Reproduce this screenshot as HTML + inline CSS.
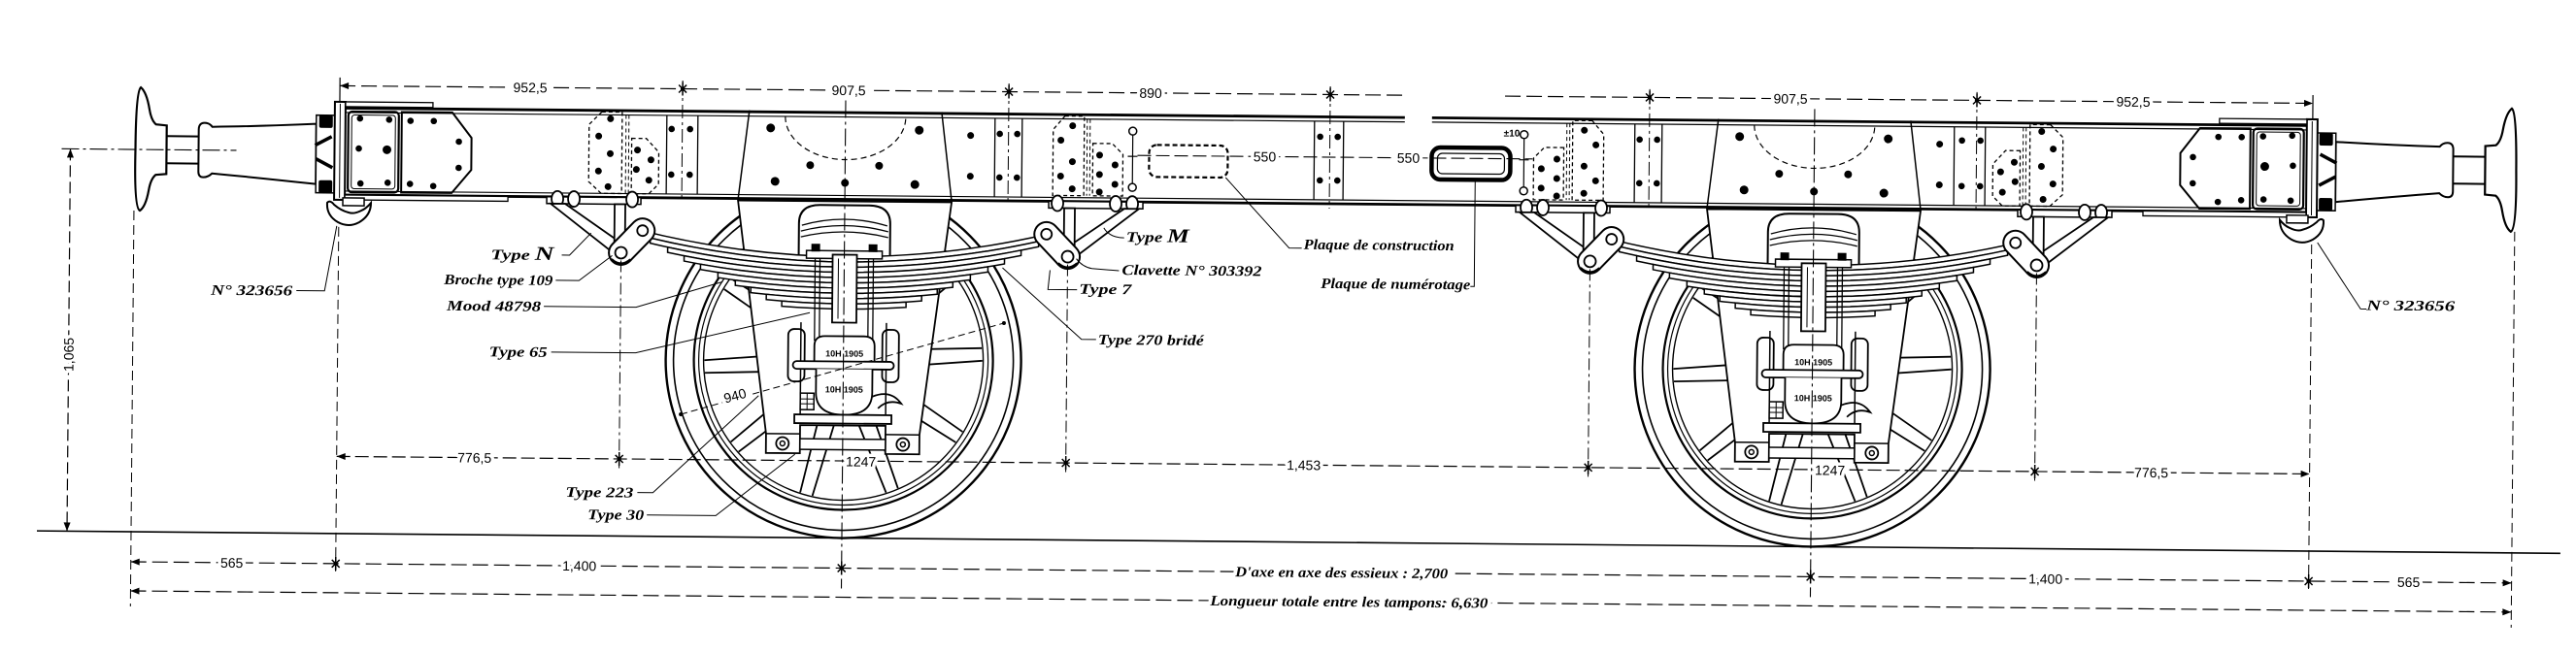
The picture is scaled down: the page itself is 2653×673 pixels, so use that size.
<!DOCTYPE html>
<html><head><meta charset="utf-8"><title>Châssis de wagon</title>
<style>
html,body{margin:0;padding:0;background:#fff;overflow:hidden}
svg{display:block}
.d{font-family:"Liberation Sans",sans-serif;font-size:14px;fill:#000;stroke:#fff;stroke-width:7px;paint-order:stroke;stroke-linejoin:round}
.l{font-family:"Liberation Serif",serif;font-style:italic;font-weight:bold;font-size:15px;fill:#000;stroke:none}
.lh{font-family:"Liberation Serif",serif;font-style:italic;font-weight:bold;font-size:15px;fill:#000;stroke:#fff;stroke-width:7px;paint-order:stroke;stroke-linejoin:round}
.s{font-family:"Liberation Sans",sans-serif;font-weight:bold;fill:#000;stroke:none}
</style></head><body>
<svg width="2653" height="673" viewBox="0 0 2653 673" xmlns="http://www.w3.org/2000/svg">
<rect width="2653" height="673" fill="#fff"/>
<defs>
<g id="sp"><path d="M44,-9 L143,-6.5 M44,9 L143,6.5"/></g>
<g id="tk"><path d="M0,-7 L0,7 M-4,-4 L4,4 M-4,4 L4,-4" stroke-width="1.5"/><circle r="2.2" fill="#000" stroke="none"/></g>
<path id="al" d="M0,0 L9,-3.5 L9,3.5 Z" fill="#000" stroke="none"/>

<g id="wl">
 <circle cx="867" cy="365" r="183" fill="#fff" stroke-width="2.4"/>
 <circle cx="867" cy="365" r="175" stroke-width="1.6"/>
 <circle cx="867" cy="365" r="154" stroke-width="2.2"/>
 <circle cx="867" cy="365" r="149" stroke-width="1.2"/>
 <circle cx="867" cy="365" r="144" stroke-width="1.4"/>
 <g transform="translate(867 365)" stroke-width="1.8">
  <use href="#sp" transform="rotate(177)"/>
  <use href="#sp" transform="rotate(213)"/>
  <use href="#sp" transform="rotate(249)"/>
  <use href="#sp" transform="rotate(285)"/>
  <use href="#sp" transform="rotate(321)"/>
  <use href="#sp" transform="rotate(357)"/>
  <use href="#sp" transform="rotate(33)"/>
  <use href="#sp" transform="rotate(69)"/>
  <use href="#sp" transform="rotate(105)"/>
  <use href="#sp" transform="rotate(141)"/>
 </g>
</g>

<g id="hg">
 <rect x="560" y="199" width="97" height="7" fill="#fff" stroke-width="1.5"/>
 <ellipse cx="571" cy="201" rx="6" ry="8" fill="#fff" stroke-width="1.8"/>
 <ellipse cx="588" cy="201" rx="6" ry="8" fill="#fff" stroke-width="1.8"/>
 <ellipse cx="648" cy="201" rx="6" ry="8" fill="#fff" stroke-width="1.8"/>
 <path d="M564,206 L579,206 L640,248 L630,257 Z" fill="#fff" stroke-width="1.8"/>
 <rect x="630" y="206" width="11" height="44" fill="#fff" stroke-width="1.8"/>
 <line x1="637" y1="256" x2="659" y2="233" stroke-width="27" stroke-linecap="round"/>
 <line x1="637" y1="256" x2="659" y2="233" stroke="#fff" stroke-width="23" stroke-linecap="round"/>
 <circle cx="637" cy="256" r="6" stroke-width="1.8"/>
 <circle cx="659" cy="233" r="5.5" stroke-width="1.8"/>
 <path d="M627,263 Q637,272 647,263" stroke-width="3"/>
</g>

<g id="wh">
 <path d="M768,108 L757,200 M966,108 L977,200" stroke-width="1.5"/>
 <path d="M805,114 A62,44 0 0 0 929,114" stroke-dasharray="6 4" stroke-width="1.2"/>
 <g fill="#000" stroke="none">
  <circle cx="790" cy="126" r="4.5"/><circle cx="943" cy="127" r="4.5"/>
  <circle cx="831" cy="164" r="4"/><circle cx="902" cy="164" r="4"/>
  <circle cx="795" cy="181" r="4.5"/><circle cx="867" cy="182" r="4"/><circle cx="939" cy="183" r="4.5"/>
  <circle cx="996" cy="132" r="3.5"/><circle cx="996" cy="174" r="3.5"/>
 </g>
 <path d="M757,201 L788,441 L788,461 L823,461 L823,432 L911,432 L911,461 L946,461 L946,441 L977,201 Z" fill="#fff" stroke-width="1.8"/>
 <path d="M788,441 L823,441 M911,441 L946,441" stroke-width="1.5"/>
 <rect x="823" y="446" width="88" height="11" fill="#fff" stroke-width="1.5"/>
 <circle cx="805" cy="451" r="6.5" stroke-width="1.8"/><circle cx="805" cy="451" r="2.5"/>
 <circle cx="929" cy="451" r="6.5" stroke-width="1.8"/><circle cx="929" cy="451" r="2.5"/>
 <path d="M820,262 L820,224 Q820,205 842,205 L892,205 Q914,205 914,224 L914,262 Z" fill="#fff" stroke-width="2"/>
 <path d="M823,226 Q867,213 911,226 M822,232 Q867,220 912,232 M822,238 Q867,227 912,238" stroke-width="1.3"/>
 <g fill="#fff" stroke-width="1.5">
  <path d="M658,233 Q867,283 1076,233 L1076,238.4 Q867,288.4 658,238.4 Z"/>
  <path d="M667,240.5 Q867,286.3 1067,240.5 L1067,245.9 Q867,291.7 667,245.9 Z"/>
  <path d="M685,249.8 Q867,287.8 1049,249.8 L1049,255.2 Q867,293.2 685,255.2 Z"/>
  <path d="M702,258.6 Q867,289.8 1032,258.6 L1032,264 Q867,295.2 702,264 Z"/>
  <path d="M719,267.1 Q867,292.1 1015,267.1 L1015,272.5 Q867,297.5 719,272.5 Z"/>
  <path d="M737,275.3 Q867,294.7 997,275.3 L997,280.7 Q867,300.1 737,280.7 Z"/>
  <path d="M755,283.2 Q867,297.6 979,283.2 L979,288.6 Q867,303 755,288.6 Z"/>
  <path d="M771,290.5 Q867,301.1 963,290.5 L963,295.9 Q867,306.5 771,295.9 Z"/>
  <path d="M787,297.5 Q867,304.9 947,297.5 L947,302.9 Q867,310.3 787,302.9 Z"/>
  <path d="M803,304.3 Q867,308.9 931,304.3 L931,309.7 Q867,314.3 803,309.7 Z"/>
 </g>
 <rect x="828" y="252" width="78" height="8" fill="#fff" stroke-width="1.5"/>
 <rect x="833" y="245" width="9" height="8" fill="#000" stroke="none"/>
 <rect x="892" y="245" width="9" height="8" fill="#000" stroke="none"/>
 <rect x="817" y="326" width="100" height="100" fill="#fff" stroke="none"/>
 <path d="M837,260 L837,345 M842,260 L842,345 M892,260 L892,345 M897,260 L897,345" stroke-width="1.3"/>
 <rect x="855" y="256" width="25" height="70" fill="#fff" stroke-width="1.8"/>
 <line x1="861" y1="260" x2="861" y2="322" stroke-width="1"/>
 <rect x="810" y="333" width="17" height="54" rx="6" fill="#fff" stroke-width="1.8"/>
 <rect x="907" y="333" width="17" height="54" rx="6" fill="#fff" stroke-width="1.8"/>
 <path d="M823,326 L823,421 M911,326 L911,421" stroke-width="1.5"/>
 <path d="M837,373 L837,350 Q837,340 848,340 L888,340 Q899,340 899,350 L899,373 Z" fill="#fff" stroke-width="1.8"/>
 <rect x="815" y="366" width="104" height="8" rx="4" fill="#fff" stroke-width="1.8"/>
 <path d="M839,374 L839,398 Q839,421 868,421 Q897,421 897,398 L897,374" fill="#fff" stroke-width="1.8"/>
 <rect x="817" y="421" width="100" height="9" fill="#fff" stroke-width="1.8"/>
 <rect x="823" y="399" width="14" height="17" fill="#fff" stroke-width="1.5"/>
 <path d="M823,405 L837,405 M823,410 L837,410 M830,399 L830,416" stroke-width="1"/>
 <path d="M897,402 Q916,394 927,409 Q913,404 903,414" stroke-width="1.8"/>
 <text class="s" x="868" y="361" font-size="9" text-anchor="middle">10H 1905</text>
 <text class="s" x="868" y="398" font-size="9" text-anchor="middle">10H 1905</text>
 <use href="#hg"/>
 <use href="#hg" transform="matrix(-1 0 0 1 1734 0)"/>
</g>

<g id="endL">
 <path d="M141,90 Q147,95 150,112 Q152,124 157,128 L168,129 L168,179 L157,180 Q152,184 150,196 Q147,213 141,217 Q135,214 136,154 Q136,94 141,90 Z" fill="#fff" stroke-width="2.2"/>
 <path d="M168,140 L201,140 M168,168 L201,168" stroke-width="2"/>
 <path d="M201,133 Q201,126 207,126 Q212,126 215,130 Q262,129 322,126 L322,188 Q262,182 215,178 Q211,182 206,182 Q201,182 201,176 Z" fill="#fff" stroke-width="2"/>
 <rect x="322" y="117" width="19" height="80" fill="#fff" stroke-width="1.5"/>
 <rect x="325" y="117" width="14" height="13" rx="2" fill="#000" stroke="none"/>
 <rect x="325" y="184" width="14" height="13" rx="2" fill="#000" stroke="none"/>
 <path d="M321,148 L338,139 M322,162 L339,171" stroke-width="3.5"/>
 <rect x="341" y="103" width="11" height="101" fill="#fff" stroke-width="2"/>
 <line x1="346.5" y1="105" x2="346.5" y2="202" stroke-width="1"/>
 <rect x="352" y="103" width="90" height="5" fill="#fff" stroke-width="1.3"/>
 <rect x="352" y="199" width="168" height="5" fill="#fff" stroke-width="1.3"/>
 <rect x="355" y="113" width="52" height="83" rx="4" stroke-width="2.2"/>
 <rect x="358.5" y="116.5" width="45" height="76" rx="3" stroke-width="1"/>
 <path d="M410,113 L462,113 L482,139 L482,172 L462,196 L410,196 Z" stroke-width="2"/>
 <rect x="350" y="202" width="22" height="8" fill="#fff" stroke-width="1.5"/>
 <path d="M334,207 Q333,220 345,227 Q356,233 367,227 Q379,220 379,207 Q374,213 369,215 Q361,219 356,217 Q348,215 341,209 Q337,204 334,207 Z" fill="#fff" stroke-width="2"/>
 <path d="M616,111 L637,111 L637,195 L616,195 L603,183 L603,124 Z" stroke-dasharray="4 3" stroke-width="1.3"/>
 <path d="M641,114 L641,195 M644,114 L644,195" stroke-dasharray="4 3" stroke-width="1"/>
 <path d="M647,138 L662,138 L675,152 L675,185 L665,195 L647,195 Z" stroke-dasharray="4 3" stroke-width="1.3"/>
 <path d="M683,114 L683,195 M715,114 L715,195" stroke-width="1.3"/>
 <g fill="#000" stroke="none">
  <circle cx="367" cy="120" r="3.3"/><circle cx="397" cy="121" r="3.3"/><circle cx="366" cy="151" r="3.3"/>
  <circle cx="395" cy="152" r="4.5"/><circle cx="368" cy="187" r="3.3"/><circle cx="396" cy="186" r="3.3"/>
  <circle cx="419" cy="122" r="3.3"/><circle cx="443" cy="122" r="3.3"/><circle cx="469" cy="143" r="3.3"/>
  <circle cx="469" cy="170" r="3.3"/><circle cx="419" cy="187" r="3.3"/><circle cx="443" cy="189" r="3.3"/>
  <circle cx="625" cy="118" r="3.5"/><circle cx="613" cy="136" r="3.5"/><circle cx="625" cy="154" r="3.5"/>
  <circle cx="613" cy="172" r="3.5"/><circle cx="623" cy="188" r="3.5"/>
  <circle cx="653" cy="150" r="3.5"/><circle cx="667" cy="160" r="3.5"/><circle cx="652" cy="170" r="3.5"/><circle cx="665" cy="181" r="3.5"/>
  <circle cx="688" cy="128" r="3.3"/><circle cx="707" cy="128" r="3.3"/><circle cx="688" cy="175" r="3.3"/><circle cx="707" cy="175" r="3.3"/>
 </g>
</g>

<g id="mid">
 <path d="M1021,114 L1021,195 M1049,114 L1049,195" stroke-width="1.3"/>
 <path d="M1093,111 L1113,111 L1113,193 L1081,193 L1081,125 Z" stroke-dasharray="4 3" stroke-width="1.3"/>
 <path d="M1116,114 L1116,193 M1119,114 L1119,193" stroke-dasharray="4 3" stroke-width="1"/>
 <path d="M1122,139 L1142,139 L1153,150 L1153,193 L1122,193 Z" stroke-dasharray="4 3" stroke-width="1.3"/>
 <path d="M1163,130 L1163,180 M1158,152 L1168,152" stroke-width="1.2"/>
 <circle cx="1163" cy="126" r="4" fill="#fff" stroke-width="1.5"/>
 <circle cx="1163" cy="184" r="4" fill="#fff" stroke-width="1.5"/>
 <g fill="#000" stroke="none">
  <circle cx="1026" cy="130" r="3.3"/><circle cx="1044" cy="130" r="3.3"/><circle cx="1026" cy="175" r="3.3"/><circle cx="1044" cy="175" r="3.3"/>
  <circle cx="1101" cy="121" r="3.5"/><circle cx="1089" cy="136" r="3.5"/><circle cx="1101" cy="158" r="3.5"/><circle cx="1089" cy="173" r="3.5"/><circle cx="1101" cy="186" r="3.5"/>
  <circle cx="1129" cy="151" r="3.5"/><circle cx="1145" cy="161" r="3.5"/><circle cx="1129" cy="171" r="3.5"/><circle cx="1145" cy="181" r="3.5"/><circle cx="1129" cy="189" r="3.5"/>
 </g>
</g>
</defs>

<g transform="rotate(0.51 135 548)" fill="none" stroke="#000" stroke-width="1.5">
 <use href="#wl"/>
 <use href="#wl" transform="translate(998 0)"/>

 <rect x="341" y="103" width="2042" height="97" fill="#fff" stroke="none"/>
 <path d="M341,109.5 L1443,109.5 M1471,109.5 L2383,109.5" stroke-width="2.8"/>
 <path d="M352,114 L1443,114 M1471,114 L2372,114" stroke-width="1.2"/>
 <path d="M352,195 L2372,195" stroke-width="1.2"/>
 <path d="M341,199 L2383,199" stroke-width="2.8"/>

 <use href="#endL"/>
 <use href="#endL" transform="matrix(-1 0 0 1 2724 0)"/>
 <use href="#mid"/>
 <use href="#mid" transform="matrix(-1 0 0 1 2729 0)"/>

 <path d="M1350,114 L1350,195 M1380,114 L1380,195" stroke-width="1.3"/>
 <g fill="#000" stroke="none">
  <circle cx="1356" cy="130" r="3.3"/><circle cx="1374" cy="130" r="3.3"/><circle cx="1356" cy="175" r="3.3"/><circle cx="1374" cy="175" r="3.3"/>
 </g>
 <rect x="1180" y="140" width="81" height="33" rx="8" stroke-dasharray="5 3" stroke-width="2.2"/>
 <rect x="1471" y="140" width="81" height="33" rx="9" stroke-width="4.5"/>
 <rect x="1477" y="146" width="69" height="21" rx="5" stroke-width="1.2"/>
 <path d="M1168,151 L1575,151" stroke-dasharray="14 5" stroke-width="1.1"/>
 <text class="d" x="1299" y="156" text-anchor="middle">550</text>
 <text class="d" x="1447" y="156" text-anchor="middle">550</text>
 <text class="s" x="1545" y="128" font-size="10">±10</text>

 <use href="#wh"/>
 <use href="#wh" transform="translate(998 0)"/>

 <!-- dimension lines -->
 <g stroke-width="1.2">
  <path d="M346,86.5 L1443,86.5 M1546,86.5 L2378,86.5" stroke-dasharray="16 6"/>
  <path d="M346,78 L346,103 M2378,78 L2378,103"/>
  <path d="M699,78 L699,200 M1035,78 L1035,200 M1366,78 L1366,204 M1695,78 L1695,200 M2032,78 L2032,200" stroke-dasharray="14 4 3 4" stroke-width="1"/>
  <use href="#tk" transform="translate(699 86.5)"/>
  <use href="#tk" transform="translate(1035 86.5)"/>
  <use href="#tk" transform="translate(1366 86.5)"/>
  <use href="#tk" transform="translate(1695 86.5)"/>
  <use href="#tk" transform="translate(2032 86.5)"/>
  <use href="#al" transform="translate(346 86.5)"/>
  <use href="#al" transform="translate(2378 86.5) scale(-1 1)"/>

  <path d="M867,97 L867,600 M1865,97 L1865,600" stroke-dasharray="18 4 3 4" stroke-width="1.1"/>
  <path d="M60,154 L240,154" stroke-dasharray="18 4 3 4" stroke-width="1.1"/>
  <path d="M135,217 L135,625 M2587,217 L2587,625" stroke-dasharray="10 5" stroke-width="1"/>
  <path d="M346,232 L346,592 M2378,232 L2378,592" stroke-dasharray="10 5" stroke-width="1"/>
  <path d="M637,264 L637,478 M1097,264 L1097,478 M1635,264 L1635,478 M2095,264 L2095,478" stroke-dasharray="12 4 3 4" stroke-width="1"/>

  <path d="M69,154 L69,548" stroke-dasharray="12 5"/>
  <use href="#al" transform="translate(69 154) rotate(90)"/>
  <use href="#al" transform="translate(69 548) rotate(-90)"/>

  <path d="M346,468.5 L2378,468.5" stroke-dasharray="14 5"/>
  <use href="#al" transform="translate(346 468.5)"/>
  <use href="#al" transform="translate(2378 468.5) scale(-1 1)"/>
  <use href="#tk" transform="translate(637 468.5)"/>
  <use href="#tk" transform="translate(1097 468.5)"/>
  <use href="#tk" transform="translate(1635 468.5)"/>
  <use href="#tk" transform="translate(2095 468.5)"/>

  <path d="M135,579 L2587,579" stroke-dasharray="16 6"/>
  <use href="#al" transform="translate(135 579)"/>
  <use href="#al" transform="translate(2587 579) scale(-1 1)"/>
  <use href="#tk" transform="translate(346 579)"/>
  <use href="#tk" transform="translate(867 579)"/>
  <use href="#tk" transform="translate(1865 579)"/>
  <use href="#tk" transform="translate(2378 579)"/>

  <path d="M135,609 L2587,609" stroke-dasharray="16 6"/>
  <use href="#al" transform="translate(135 609)"/>
  <use href="#al" transform="translate(2587 609) scale(-1 1)"/>

  <path d="M38,548 L2637,548" stroke-width="1.6"/>
 </g>

 <!-- dimension texts -->
 <text class="d" x="542" y="91.5" text-anchor="middle">952,5</text>
 <text class="d" x="870" y="91.5" text-anchor="middle">907,5</text>
 <text class="d" x="1181" y="91.5" text-anchor="middle">890</text>
 <text class="d" x="1840" y="91.5" text-anchor="middle">907,5</text>
 <text class="d" x="2193" y="91.5" text-anchor="middle">952,5</text>
 <text class="d" x="488" y="473.5" text-anchor="middle">776,5</text>
 <text class="d" x="1342" y="473.5" text-anchor="middle">1,453</text>
 <text class="d" x="2215" y="473.5" text-anchor="middle">776,5</text>
 <text class="d" x="886" y="474" text-anchor="middle" font-size="11">1247</text>
 <text class="d" x="1884" y="474" text-anchor="middle" font-size="11">1247</text>
 <text class="d" x="239" y="584" text-anchor="middle">565</text>
 <text class="d" x="597" y="584" text-anchor="middle">1,400</text>
 <text class="d" x="2107" y="584" text-anchor="middle">1,400</text>
 <text class="d" x="2481" y="584" text-anchor="middle">565</text>
 <text class="d" transform="translate(69 366) rotate(-90)" y="5" text-anchor="middle">1,065</text>
 <text class="lh" x="1382" y="584" text-anchor="middle" textLength="219" lengthAdjust="spacingAndGlyphs">D'axe en axe des essieux : 2,700</text>
 <text class="lh" x="1390" y="614" text-anchor="middle" textLength="286" lengthAdjust="spacingAndGlyphs">Longueur totale entre les tampons: 6,630</text>

 <!-- 940 diameter -->
 <path d="M700,422 L1032,325" stroke-dasharray="7 4" stroke-width="1"/>
 <circle cx="700" cy="422" r="2" fill="#000" stroke="none"/>
 <circle cx="1032" cy="325" r="2" fill="#000" stroke="none"/>
 <text class="d" font-size="13" transform="translate(757 407) rotate(-16)" text-anchor="middle">940</text>

 <!-- leaders -->
 <g stroke-width="1">
  <path d="M344,231 L332,298 L303,298"/>
  <path d="M576,259 L584,259 L606,236"/>
  <path d="M570,285 L594,285 L628,259"/>
  <path d="M558,312 L653,312 L742,285"/>
  <path d="M566,359 L653,359 L832,316"/>
  <path d="M656,503 L672,503 L780,402"/>
  <path d="M666,526 L737,526 L818,462"/>
  <path d="M1155,236 Q1140,236 1134,226"/>
  <path d="M1150,270 L1122,268 Q1112,266 1106,258"/>
  <path d="M1107,290 L1077,290 L1079,270"/>
  <path d="M1127,341 L1112,341 L1030,268"/>
  <path d="M1259,173 L1325,245 L1338,245"/>
  <path d="M1516,173 L1516,283 L1512,283"/>
  <path d="M2384,230 L2429,298 L2435,298"/>
 </g>

 <!-- labels -->
 <text class="l" x="215" y="303" textLength="84" lengthAdjust="spacingAndGlyphs">N° 323656</text>
 <text class="l" x="503" y="264" textLength="65" lengthAdjust="spacingAndGlyphs">Type <tspan font-size="20">N</tspan></text>
 <text class="l" x="455" y="290" textLength="112" lengthAdjust="spacingAndGlyphs">Broche type 109</text>
 <text class="l" x="458" y="317" textLength="97" lengthAdjust="spacingAndGlyphs">Mood 48798</text>
 <text class="l" x="502" y="364" textLength="60" lengthAdjust="spacingAndGlyphs">Type 65</text>
 <text class="l" x="582" y="508" textLength="70" lengthAdjust="spacingAndGlyphs">Type 223</text>
 <text class="l" x="605" y="531" textLength="58" lengthAdjust="spacingAndGlyphs">Type 30</text>
 <text class="l" x="1157" y="240" textLength="65" lengthAdjust="spacingAndGlyphs">Type <tspan font-size="20">M</tspan></text>
 <text class="l" x="1153" y="274" textLength="144" lengthAdjust="spacingAndGlyphs">Clavette N° 303392</text>
 <text class="l" x="1109" y="294" textLength="54" lengthAdjust="spacingAndGlyphs">Type 7</text>
 <text class="l" x="1129" y="346" textLength="109" lengthAdjust="spacingAndGlyphs">Type 270 bridé</text>
 <text class="l" x="1340" y="246" textLength="155" lengthAdjust="spacingAndGlyphs">Plaque de construction</text>
 <text class="l" x="1358" y="286" textLength="154" lengthAdjust="spacingAndGlyphs">Plaque de numérotage</text>
 <text class="l" x="2435" y="299" textLength="91" lengthAdjust="spacingAndGlyphs">N° 323656</text>
</g>
</svg>
</body></html>
